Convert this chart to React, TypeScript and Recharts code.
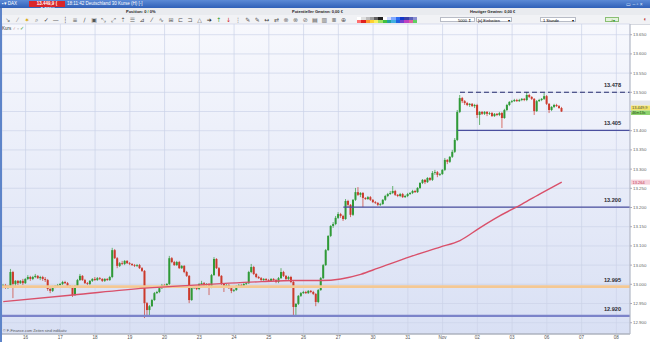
import { ComposedChart, Bar, Line, XAxis, YAxis, CartesianGrid, ReferenceLine } from "recharts";

// hourly candles, 13 Oct .. 6 Nov: [open, high, low, close]
const CANDLES: number[][] = [
  // 13
  [12.996, 13.001, 12.990, 12.998], [12.998, 13.001, 12.988, 12.993], [12.993, 12.998, 12.988, 12.996], [12.996, 13.040, 12.993, 13.032], [13.032, 13.035, 12.964, 13.001], [13.001, 13.011, 12.996, 13.009], [13.009, 13.011, 12.998, 13.003], [13.003, 13.011, 13.001, 13.009], [13.009, 13.014, 12.998, 13.003],
  // 16
  [13.003, 13.016, 13.001, 13.014], [13.014, 13.024, 13.011, 13.019], [13.019, 13.022, 13.009, 13.014], [13.014, 13.022, 13.011, 13.019], [13.019, 13.027, 13.016, 13.022], [13.022, 13.024, 13.014, 13.016], [13.016, 13.022, 13.011, 13.019], [13.019, 13.022, 13.009, 13.014], [13.014, 13.019, 13.006, 13.011], [13.011, 13.014, 12.983, 12.988], [12.988, 12.990, 12.977, 12.983], [12.983, 12.996, 12.980, 12.993], [12.993, 12.998, 12.990, 12.996], [12.996, 13.001, 12.993, 12.998],
  // 17
  [12.998, 13.003, 12.996, 13.001], [13.001, 13.009, 12.998, 13.006], [13.006, 13.009, 13.001, 13.003], [13.003, 13.006, 12.993, 12.996], [12.996, 12.998, 12.990, 12.993], [12.993, 12.996, 12.967, 12.972], [12.972, 12.998, 12.970, 12.996], [12.996, 13.014, 12.993, 13.011], [13.011, 13.027, 13.009, 13.022], [13.022, 13.024, 13.009, 13.011], [13.011, 13.014, 13.001, 13.003], [13.003, 13.006, 12.998, 13.001], [13.001, 13.011, 12.998, 13.009], [13.009, 13.016, 13.006, 13.014],
  // 18
  [13.014, 13.019, 13.009, 13.011], [13.011, 13.019, 13.009, 13.016], [13.016, 13.019, 13.011, 13.014], [13.014, 13.016, 13.006, 13.009], [13.009, 13.016, 13.006, 13.014], [13.014, 13.016, 13.009, 13.011], [13.011, 13.022, 13.009, 13.019], [13.019, 13.095, 13.016, 13.089], [13.089, 13.092, 13.066, 13.068], [13.068, 13.071, 13.042, 13.048], [13.048, 13.058, 13.045, 13.055], [13.055, 13.061, 13.050, 13.053], [13.053, 13.063, 13.050, 13.061], [13.061, 13.063, 13.053, 13.055],
  // 19
  [13.055, 13.058, 13.050, 13.053], [13.053, 13.055, 13.048, 13.050], [13.050, 13.053, 13.045, 13.048], [13.048, 13.053, 13.045, 13.050], [13.050, 13.053, 13.040, 13.042], [13.042, 13.045, 13.032, 13.035], [13.035, 13.037, 12.912, 12.951], [12.951, 12.954, 12.918, 12.933], [12.933, 12.946, 12.920, 12.943], [12.943, 12.962, 12.941, 12.959], [12.959, 12.980, 12.957, 12.977], [12.977, 12.983, 12.975, 12.980], [12.980, 12.993, 12.977, 12.990], [12.990, 13.001, 12.988, 12.998],
  // 20
  [12.998, 13.001, 12.993, 12.996], [12.996, 13.003, 12.993, 13.001], [13.001, 13.074, 12.998, 13.068], [13.068, 13.071, 13.055, 13.058], [13.058, 13.061, 13.048, 13.050], [13.050, 13.061, 13.048, 13.058], [13.058, 13.061, 13.040, 13.042], [13.042, 13.050, 13.040, 13.048], [13.048, 13.050, 13.029, 13.032], [13.032, 13.035, 13.019, 13.022], [13.022, 13.024, 12.951, 12.959], [12.959, 12.993, 12.957, 12.990], [12.990, 12.996, 12.988, 12.993], [12.993, 12.996, 12.985, 12.988],
  // 23
  [12.988, 13.003, 12.985, 13.001], [13.001, 13.009, 12.998, 13.003], [13.003, 13.006, 12.996, 12.998], [12.998, 13.003, 12.996, 13.001], [13.001, 13.003, 12.972, 12.993], [12.993, 13.027, 12.990, 13.024], [13.024, 13.071, 13.022, 13.066], [13.066, 13.068, 13.040, 13.042], [13.042, 13.045, 13.019, 13.022], [13.022, 13.024, 12.998, 13.001], [13.001, 13.003, 12.980, 12.996], [12.996, 13.001, 12.993, 12.998], [12.998, 13.001, 12.988, 12.990], [12.990, 12.993, 12.977, 12.983],
  // 24
  [12.983, 12.988, 12.980, 12.985], [12.985, 12.998, 12.983, 12.996], [12.996, 13.001, 12.993, 12.998], [12.998, 13.001, 12.993, 12.996], [12.996, 13.003, 12.993, 13.001], [13.001, 13.006, 12.998, 13.003], [13.003, 13.035, 13.001, 13.032], [13.032, 13.053, 13.029, 13.045], [13.045, 13.048, 13.024, 13.027], [13.027, 13.029, 13.016, 13.019], [13.019, 13.022, 13.014, 13.016], [13.016, 13.019, 13.009, 13.011], [13.011, 13.016, 13.009, 13.014], [13.014, 13.016, 13.009, 13.011],
  // 25
  [13.011, 13.014, 13.006, 13.009], [13.009, 13.016, 13.006, 13.014], [13.014, 13.016, 13.009, 13.011], [13.011, 13.014, 13.003, 13.006], [13.006, 13.019, 13.003, 13.016], [13.016, 13.042, 13.014, 13.032], [13.032, 13.035, 13.019, 13.022], [13.022, 13.024, 13.011, 13.014], [13.014, 13.022, 13.011, 13.019], [13.019, 13.022, 13.003, 13.006], [13.006, 13.009, 12.918, 12.941], [12.941, 12.951, 12.915, 12.949], [12.949, 12.972, 12.946, 12.970], [12.970, 12.980, 12.967, 12.977],
  // 26
  [12.977, 12.983, 12.975, 12.980], [12.980, 12.983, 12.975, 12.977], [12.977, 12.985, 12.975, 12.983], [12.983, 12.985, 12.977, 12.980], [12.980, 12.983, 12.972, 12.975], [12.975, 12.977, 12.943, 12.954], [12.954, 12.988, 12.951, 12.985], [12.985, 13.019, 12.983, 13.016], [13.016, 13.053, 13.014, 13.050], [13.050, 13.092, 13.048, 13.089], [13.089, 13.128, 13.087, 13.126], [13.126, 13.154, 13.123, 13.152], [13.152, 13.162, 13.147, 13.157], [13.157, 13.178, 13.154, 13.173],
  // 27
  [13.173, 13.188, 13.170, 13.183], [13.183, 13.186, 13.173, 13.178], [13.178, 13.181, 13.165, 13.170], [13.170, 13.222, 13.168, 13.217], [13.217, 13.220, 13.201, 13.207], [13.207, 13.209, 13.175, 13.181], [13.181, 13.222, 13.178, 13.220], [13.220, 13.251, 13.217, 13.240], [13.240, 13.253, 13.230, 13.233], [13.233, 13.240, 13.227, 13.238], [13.238, 13.240, 13.201, 13.225], [13.225, 13.227, 13.220, 13.222], [13.222, 13.230, 13.220, 13.227], [13.227, 13.230, 13.217, 13.220],
  // 30
  [13.220, 13.222, 13.212, 13.214], [13.214, 13.217, 13.209, 13.212], [13.212, 13.214, 13.204, 13.207], [13.207, 13.212, 13.204, 13.209], [13.209, 13.222, 13.207, 13.220], [13.220, 13.233, 13.217, 13.230], [13.230, 13.238, 13.227, 13.235], [13.235, 13.243, 13.233, 13.238], [13.238, 13.256, 13.235, 13.243], [13.243, 13.246, 13.230, 13.233], [13.233, 13.235, 13.227, 13.230], [13.230, 13.238, 13.227, 13.235], [13.235, 13.238, 13.225, 13.227], [13.227, 13.233, 13.225, 13.230],
  // 31
  [13.230, 13.238, 13.227, 13.235], [13.235, 13.240, 13.233, 13.238], [13.238, 13.246, 13.235, 13.243], [13.243, 13.246, 13.238, 13.240], [13.240, 13.253, 13.238, 13.251], [13.251, 13.266, 13.248, 13.264], [13.264, 13.274, 13.261, 13.272], [13.272, 13.274, 13.261, 13.266], [13.266, 13.279, 13.264, 13.277], [13.277, 13.279, 13.269, 13.272], [13.272, 13.295, 13.269, 13.290], [13.290, 13.298, 13.285, 13.292], [13.292, 13.295, 13.279, 13.285], [13.285, 13.290, 13.282, 13.287],
  // Nov
  [13.287, 13.300, 13.285, 13.298], [13.298, 13.329, 13.295, 13.324], [13.324, 13.326, 13.313, 13.319], [13.319, 13.334, 13.316, 13.332], [13.332, 13.350, 13.329, 13.345], [13.345, 13.381, 13.342, 13.376], [13.376, 13.454, 13.373, 13.449], [13.449, 13.493, 13.446, 13.485], [13.485, 13.488, 13.472, 13.477], [13.477, 13.480, 13.467, 13.472], [13.472, 13.475, 13.464, 13.467], [13.467, 13.472, 13.462, 13.470], [13.470, 13.472, 13.462, 13.464], [13.464, 13.470, 13.459, 13.467],
  // 02
  [13.467, 13.470, 13.433, 13.441], [13.441, 13.451, 13.415, 13.449], [13.449, 13.451, 13.441, 13.444], [13.444, 13.451, 13.441, 13.449], [13.449, 13.451, 13.438, 13.444], [13.444, 13.449, 13.441, 13.446], [13.446, 13.449, 13.436, 13.438], [13.438, 13.446, 13.436, 13.444], [13.444, 13.446, 13.438, 13.441], [13.441, 13.449, 13.438, 13.446], [13.446, 13.449, 13.407, 13.433], [13.433, 13.457, 13.431, 13.454], [13.454, 13.470, 13.451, 13.467], [13.467, 13.477, 13.464, 13.475],
  // 03
  [13.475, 13.480, 13.472, 13.477], [13.477, 13.483, 13.475, 13.480], [13.480, 13.483, 13.475, 13.477], [13.477, 13.483, 13.475, 13.480], [13.480, 13.485, 13.477, 13.483], [13.483, 13.485, 13.477, 13.480], [13.480, 13.501, 13.477, 13.493], [13.493, 13.496, 13.485, 13.488], [13.488, 13.490, 13.480, 13.483], [13.483, 13.485, 13.441, 13.451], [13.451, 13.480, 13.449, 13.477], [13.477, 13.483, 13.475, 13.480], [13.480, 13.485, 13.477, 13.483], [13.483, 13.498, 13.480, 13.490],
  // 06
  [13.490, 13.493, 13.467, 13.470], [13.470, 13.472, 13.446, 13.454], [13.454, 13.464, 13.451, 13.462], [13.462, 13.470, 13.459, 13.467], [13.467, 13.470, 13.462, 13.464], [13.464, 13.467, 13.457, 13.459], [13.459, 13.462, 13.449, 13.450],
];

// candle index where each day starts, and its label
const DAY_STARTS = [9, 23, 37, 51, 65, 79, 93, 107, 121, 135, 149, 163, 177, 191, 205, 219, 233, 247];
const DAY_LABELS = ["16", "17", "18", "19", "20", "23", "24", "25", "26", "27", "30", "31", "Nov", "02", "03", "06", "07", "08"];

// 200 MA, read at a few points: [candle index, value]
const MA_POINTS = [
  [0, 12.955], [28, 12.972], [57, 12.99], [77, 12.998], [104, 13.007], [117, 13.01], [128, 13.01], [136, 13.014],
  [144, 13.026], [151, 13.042], [164, 13.072], [176, 13.097], [184, 13.114], [192, 13.147], [200, 13.178],
  [209, 13.209], [217, 13.238], [225, 13.266],
];

const PRICE_TICKS = [12.9, 12.95, 13.0, 13.05, 13.1, 13.15, 13.2, 13.25, 13.3, 13.35, 13.4, 13.45, 13.5, 13.55, 13.6, 13.65];

// drawn levels: label, price where the line sits, first candle index
const LEVEL_LABELS = ["13.478", "13.405", "13.200", "12.995", "12.920"];
const LEVEL_VALUES = [13.5, 13.401, 13.201, 12.994, 12.918];
const LEVEL_FROM = [184, 183, 137, -0.5, -0.5];

const LAST_LABEL = "13.449,9";
const TIMER_LABEL = "46m13s";
const MA_LABEL = "13.264";

const X_MAX = 252.5;

const maByIndex = new Map(MA_POINTS.map((p) => [p[0], p[1]]));
const chartData = CANDLES.map((c, i) => ({
  i,
  o: c[0],
  h: c[1],
  l: c[2],
  c: c[3],
  ma: maByIndex.get(i),
}));
const lastClose = CANDLES[CANDLES.length - 1][3];
const lastMa = MA_POINTS[MA_POINTS.length - 1][1];

const UP = "#2f9a37";
const DOWN = "#cc3a2c";

function Candle(props: any) {
  const { x, y, width, height, payload } = props;
  if (!payload || height == null || isNaN(y)) return null;
  const { o, h, l, c } = payload;
  const k = height / (h - l);
  const cx = x + width / 2;
  const yO = y + (h - o) * k;
  const yC = y + (h - c) * k;
  const color = c >= o ? UP : DOWN;
  const top = Math.min(yO, yC);
  const bh = Math.max(Math.abs(yC - yO), 0.8);
  return (
    <g>
      <line x1={cx} x2={cx} y1={y} y2={y + height} stroke={color} strokeWidth={0.7} />
      <rect x={cx - 1} y={top} width={2} height={bh} fill={color} />
    </g>
  );
}

function DayTick(props: any) {
  const { x, y, payload } = props;
  const idx = DAY_STARTS.indexOf(payload.value);
  return (
    <text x={x} y={y + 5.2} textAnchor="middle" fontSize={4.6} fill="#555">
      {DAY_LABELS[idx]}
    </text>
  );
}

function LevelText(props: any) {
  const { viewBox, text } = props;
  if (!viewBox) return null;
  return (
    <text x={viewBox.x + viewBox.width - 9} y={viewBox.y - 5} textAnchor="end" fontSize={5.6} fontWeight="bold" fill="#2b2b33">
      {text}
    </text>
  );
}

function PriceTag(props: any) {
  const { viewBox } = props;
  if (!viewBox) return null;
  const x = viewBox.x + viewBox.width + 1;
  const y = viewBox.y;
  return (
    <g>
      <rect x={x} y={y - 11} width={19} height={5} fill="#e4e6ea" />
      <rect x={x} y={y - 6} width={19} height={5} fill="#f3e36a" />
      <text x={x + 1} y={y - 2.2} fontSize={4} fill="#444">{LAST_LABEL}</text>
      <rect x={x} y={y - 1} width={19} height={4.5} fill="#8fd36f" />
      <text x={x + 1} y={y + 2.6} fontSize={3.8} fill="#1e4a12">{TIMER_LABEL}</text>
    </g>
  );
}

function MaTag(props: any) {
  const { viewBox } = props;
  if (!viewBox) return null;
  const x = viewBox.x + viewBox.width + 1;
  const y = viewBox.y;
  return (
    <g>
      <rect x={x} y={y - 2.5} width={19} height={5} fill="#f6d2dc" />
      <text x={x + 1.5} y={y + 1.5} fontSize={4} fill="#c23a58">{MA_LABEL}</text>
    </g>
  );
}

const ICONS = "↘ ⁄ ✶ ⌕ ✓ — ┆ ≡ ∕ ▣ ⤡ ⤢ ⇡ ☰ ⊿ ⁄ ∿ ⊞ ⊏ ⊐ △ ➔ ↑ ↓ ⋮ ✎ ✎ ↔ ⇄ ⊗ ⊗ ⊘ ▤ ▥ ≣ ⊕";
const ICON_COLORS = ["#666", "#888", "#d8a400", "#555", "#444", "#444", "#444", "#555", "#444", "#555", "#555", "#555", "#555", "#666", "#444", "#444", "#555", "#555", "#555", "#555", "#555", "#222", "#2a9a2a", "#d02020", "#444", "#555", "#555", "#444", "#555", "#777", "#777", "#777", "#555", "#555", "#555", "#555"];
const PALETTE_TOP = ["#ffffff", "#e0e0e0", "#bdbdbd", "#9e9e9e", "#616161", "#212121", "#ffffff", "#cfd8ff", "#7fa8ff", "#2e6cf0", "#1237c9", "#3a40a8", "#5a5fb8", "#8a8fd0"];
const PALETTE_BOT = ["#ff7070", "#e02020", "#ff9a30", "#ffd030", "#f8f060", "#a0e060", "#40c040", "#20a0a0", "#40b0e0", "#2060e0", "#7040d0", "#c040c0", "#e060a0", "#60d060"];

export default function App() {
  const font = "'Liberation Sans', Arial, sans-serif";
  return (
    <div style={{ position: "absolute", left: 0, top: 0, width: 650, height: 342, background: "#fff", overflow: "hidden", fontFamily: font }}>
      {/* title bar */}
      <div style={{ position: "absolute", left: 0, top: 0, width: 650, height: 8, background: "linear-gradient(#5b8ad6, #2f60b8)" }}>
        <span style={{ position: "absolute", left: 2, top: 1, fontSize: 4.5, color: "#fff" }}>▪▾ DAX</span>
        <span style={{ position: "absolute", left: 29, top: 0.5, width: 36, height: 6.5, background: "#d9262a", color: "#fff", fontSize: 4.5, fontWeight: "bold", lineHeight: "6.5px", textAlign: "center" }}>13.449,9 ( -0,36%)</span>
        <span style={{ position: "absolute", left: 67, top: 1, fontSize: 4.5, color: "#fff" }}>18:11:42 Deutschland 30 Kurse (H) [-]</span>
        <span style={{ position: "absolute", left: 626, top: 0.5, fontSize: 5, color: "#dfe8ff" }}>▭ – ▫ ×</span>
      </div>
      {/* status row */}
      <div style={{ position: "absolute", left: 0, top: 8, width: 650, height: 7, background: "#e9ebef", fontSize: 4, color: "#222", fontWeight: "bold", lineHeight: "7px" }}>
        <span style={{ position: "absolute", left: 126 }}>Position: 0 <span style={{ color: "#2a9a2a" }}>/</span> 0%</span>
        <span style={{ position: "absolute", left: 292 }}>Potentieller Gewinn: 0,00 €</span>
        <span style={{ position: "absolute", left: 470 }}>Heutiger Gewinn: 0,00 €</span>
      </div>
      {/* toolbar */}
      <div style={{ position: "absolute", left: 0, top: 15, width: 650, height: 9, background: "#f1f2f5", borderBottom: "1px solid #d6d9e0" }}>
        <div style={{ position: "absolute", left: 3, top: 1, fontSize: 6, lineHeight: "7px", whiteSpace: "nowrap", fontFamily: "'DejaVu Sans', sans-serif" }}>
          {ICONS.split(" ").map((g, k) => (
            <span key={k} style={{ color: ICON_COLORS[k % ICON_COLORS.length], display: "inline-block", width: 9.6, textAlign: "center" }}>{g}</span>
          ))}
        </div>
        <div style={{ position: "absolute", left: 357, top: 1.5, display: "grid", gridTemplateColumns: "repeat(14, 4.3px)", gridAutoRows: "3px" }}>
          {PALETTE_TOP.concat(PALETTE_BOT).map((c, k) => (
            <div key={k} style={{ background: c }} />
          ))}
        </div>
        <div style={{ position: "absolute", left: 440, top: 1.5, width: 35, height: 5.5, background: "#fff", border: "0.5px solid #b8bcc6", fontSize: 4, lineHeight: "5.5px", textAlign: "right", boxSizing: "border-box", paddingRight: 3 }}>5000 ⇕</div>
        <div style={{ position: "absolute", left: 476, top: 1.5, width: 36, height: 5.5, background: "#fff", border: "0.5px solid #b8bcc6", fontSize: 4, lineHeight: "5.5px", boxSizing: "border-box", paddingLeft: 1 }}>[x] Einheiten <span style={{ float: "right", paddingRight: 1 }}>▾</span></div>
        <div style={{ position: "absolute", left: 540, top: 1.5, width: 36, height: 5.5, background: "#fff", border: "0.5px solid #b8bcc6", fontSize: 4, lineHeight: "5.5px", boxSizing: "border-box", paddingLeft: 2 }}>1 Stunde <span style={{ float: "right", paddingRight: 1 }}>▾</span></div>
        <div style={{ position: "absolute", left: 605, top: 1.5, width: 14, height: 5.5, background: "#e4f2dc", border: "0.5px solid #8abf74", fontSize: 4, lineHeight: "5.5px", color: "#2a8a2a", textAlign: "center", boxSizing: "border-box" }}>↗▾</div>
        <div style={{ position: "absolute", left: 643, top: 1, fontSize: 6, color: "#c04040" }}>◖</div>
      </div>

      <div style={{ position: "absolute", left: 0, top: 0 }}>
        <ComposedChart
          width={650}
          height={342}
          data={chartData}
          margin={{ top: 24, right: 0, bottom: 0, left: 2 }}
          style={{ fontFamily: font }}
        >
          <defs>
            <linearGradient id="plotBg" x1="0" y1="0" x2="0" y2="1">
              <stop offset="0%" stopColor="#f7f8fd" />
              <stop offset="100%" stopColor="#d9e0f4" />
            </linearGradient>
          </defs>
          <CartesianGrid stroke="#cbd2e8" strokeWidth={0.7} fill="url(#plotBg)" />
          <XAxis
            dataKey="i"
            type="number"
            domain={[-0.5, X_MAX]}
            allowDataOverflow
            ticks={DAY_STARTS}
            interval={0}
            tick={<DayTick />}
            tickLine={false}
            tickSize={0}
            tickMargin={0}
            axisLine={{ stroke: "#9a9ea8" }}
            height={8}
          />
          <YAxis
            orientation="right"
            type="number"
            domain={[12.8706, 13.6779]}
            allowDataOverflow
            ticks={PRICE_TICKS}
            interval={0}
            tickFormatter={(v: number) => (Math.abs(v - lastClose) < 0.01 ? "" : v.toFixed(3))}
            tick={{ fontSize: 4.4, fill: "#666" }}
            tickSize={2}
            tickMargin={1}
            tickLine={{ stroke: "#aab" }}
            axisLine={{ stroke: "#b3b7c2" }}
            width={20}
          />

          {/* horizontal levels */}
          <ReferenceLine y={LEVEL_VALUES[3]} stroke="#f4c893" strokeWidth={2.6} label={(p: any) => <LevelText {...p} text={LEVEL_LABELS[3]} />} />
          <ReferenceLine y={LEVEL_VALUES[4]} stroke="#7b83c9" strokeWidth={2.2} label={(p: any) => <LevelText {...p} text={LEVEL_LABELS[4]} />} />
          <ReferenceLine
            segment={[{ x: LEVEL_FROM[2], y: LEVEL_VALUES[2] }, { x: X_MAX, y: LEVEL_VALUES[2] }]}
            stroke="#4a4f9e"
            strokeWidth={1.2}
            label={(p: any) => <LevelText {...p} text={LEVEL_LABELS[2]} />}
          />
          <ReferenceLine
            segment={[{ x: LEVEL_FROM[1], y: LEVEL_VALUES[1] }, { x: X_MAX, y: LEVEL_VALUES[1] }]}
            stroke="#4a4f9e"
            strokeWidth={1.2}
            label={(p: any) => <LevelText {...p} text={LEVEL_LABELS[1]} />}
          />
          <ReferenceLine
            segment={[{ x: LEVEL_FROM[0], y: LEVEL_VALUES[0] }, { x: X_MAX, y: LEVEL_VALUES[0] }]}
            stroke="#262b6e"
            strokeWidth={1.1}
            strokeDasharray="5 3"
            label={(p: any) => <LevelText {...p} text={LEVEL_LABELS[0]} />}
          />

          <Line
            dataKey="ma"
            type="monotone"
            connectNulls
            stroke="#d9506a"
            strokeWidth={1.4}
            dot={false}
            activeDot={false}
            isAnimationActive={false}
          />
          <Bar
            dataKey={(d: any) => [d.l, d.h]}
            barSize={2}
            shape={(p: any) => <Candle {...p} />}
            isAnimationActive={false}
          />

          <ReferenceLine y={lastClose} stroke="none" label={(p: any) => <PriceTag {...p} />} />
          <ReferenceLine y={lastMa} stroke="none" label={(p: any) => <MaTag {...p} />} />
        </ComposedChart>
      </div>

      {/* chart overlays */}
      <div style={{ position: "absolute", left: 2, top: 25.5, fontSize: 4.5, color: "#333", whiteSpace: "nowrap" }}>
        Kurs <span style={{ color: "#c06060" }}>♂</span> <span style={{ color: "#999" }}>▫</span> <span style={{ color: "#2a9a2a" }}>✓</span>
      </div>
      <div style={{ position: "absolute", left: 3, top: 328.5, fontSize: 3.8, color: "#555", whiteSpace: "nowrap" }}>
        © F-Finance.com Zeiten sind indikativ
      </div>
      <div style={{ position: "absolute", left: 0, top: 8, width: 1.5, height: 334, background: "#5d84c9" }} />
    </div>
  );
}
